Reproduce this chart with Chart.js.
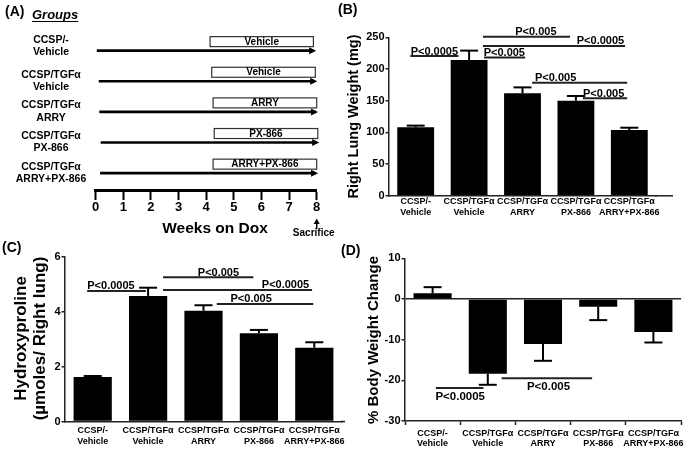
<!DOCTYPE html>
<html><head><meta charset="utf-8">
<script src="https://cdn.jsdelivr.net/npm/chart.js@4.4.1/dist/chart.umd.min.js"></script>
<style>
html,body{margin:0;padding:0;background:#fff;}
#wrap{position:relative;width:692px;height:449px;overflow:hidden;background:#fff;}
#wrap canvas{position:absolute;left:0;top:0;}
</style></head><body>
<div id="wrap">
<canvas id="cA" width="692" height="449"></canvas>
<canvas id="cB" width="692" height="449"></canvas>
<canvas id="cC" width="692" height="449"></canvas>
<canvas id="cD" width="692" height="449"></canvas>
</div>
<script>
// ---------------- DATA ----------------
const groupLine1 = ['CCSP/-', 'CCSP/TGFα', 'CCSP/TGFα', 'CCSP/TGFα', 'CCSP/TGFα'];
const groupLine2 = ['Vehicle', 'Vehicle', 'ARRY', 'PX-866', 'ARRY+PX-866'];
const categories = groupLine1.map((a, i) => [a, groupLine2[i]]);

// Panel A: timeline (weeks on Dox)
const treatments = ['Vehicle', 'Vehicle', 'ARRY', 'PX-866', 'ARRY+PX-866'];
const doxStartWeek = [0.04, 0.11, 0.13, 0.18, 0.16];
const doxEndWeek = [7.98, 8.02, 8.05, 8.09, 8.05];
const treatStartWeek = [4.14, 4.2, 4.25, 4.29, 4.25];
const treatEndWeek = [7.88, 7.95, 8.0, 8.04, 8.0];
const sacrificeWeek = 8;

// Panel B: right lung weight (mg)
const lungWeightMean = [108, 214, 161.7, 150, 103.8];
const lungWeightSEM = [2.7, 15, 9.3, 7.4, 3.6];
// [from group, to group, value, label, label at]
const lungWeightSig = [
  [-0.1, 0.8, 220.5, 'P<0.0005', 0.35],
  [1.28, 2.05, 218, 'P<0.005', 1.66],
  [1.26, 2.89, 251, 'P<0.005', 2.25],
  [1.26, 3.92, 236.3, 'P<0.0005', 3.46],
  [2.18, 3.96, 178.4, 'P<0.005', 2.62],
  [3.13, 3.96, 153.8, 'P<0.005', 3.52]
];

// Panel C: hydroxyproline (µmoles / right lung)
const hydroxyMean = [1.62, 4.58, 4.04, 3.22, 2.69];
const hydroxySEM = [0.04, 0.3, 0.2, 0.12, 0.2];
const hydroxySig = [
  [-0.1, 0.96, 4.76, 'P<0.0005', 0.33],
  [1.27, 2.9, 5.26, 'P<0.005', 2.27],
  [1.27, 3.96, 4.8, 'P<0.0005', 3.48],
  [2.24, 3.98, 4.29, 'P<0.005', 2.86]
];

// Panel D: % body weight change
const bodyWeightMean = [1.4, -18.4, -11.1, -1.9, -8.1];
const bodyWeightSEM = [1.5, 2.7, 4.1, 3.3, 2.6];
const bodyWeightSig = [
  [0.06, 0.92, -21.9, 'P<0.0005', 0.5],
  [1.25, 2.89, -19.5, 'P<0.005', 2.1]
];

// ---------------- HELPERS ----------------
const FAM = 'Arial, "Liberation Sans", sans-serif';
const W = 692, H = 449;
function fnt(size, weight = 'bold', style = 'normal') { return `${style} ${weight} ${size}px ${FAM}`; }
function drawText(ctx, t, x, y, o = {}) {
  ctx.save();
  ctx.font = fnt(o.size || 11, o.weight || 'bold', o.style || 'normal');
  ctx.fillStyle = o.color || '#000';
  ctx.textAlign = o.align || 'center';
  ctx.textBaseline = o.baseline || 'middle';
  ctx.translate(x, y);
  if (o.rot) ctx.rotate(o.rot);
  ctx.fillText(t, 0, 0);
  const w = ctx.measureText(t).width;
  ctx.restore();
  return w;
}
function line(ctx, x1, y1, x2, y2, lw, col) {
  ctx.save(); ctx.strokeStyle = col || '#000'; ctx.lineWidth = lw || 1;
  ctx.beginPath(); ctx.moveTo(x1, y1); ctx.lineTo(x2, y2); ctx.stroke(); ctx.restore();
}

// ---------------- PANEL A ----------------
const timelinePlugin = {
  id: 'timeline',
  afterDatasetsDraw(chart) {
    const { ctx, scales: { x, y } } = chart;
    treatments.forEach((t, i) => {
      const yp = y.getPixelForValue(i);
      const xt = x.getPixelForValue(doxEndWeek[i]);
      ctx.save(); ctx.fillStyle = '#000'; ctx.beginPath();
      ctx.moveTo(xt, yp); ctx.lineTo(xt - 7, yp - 3.5); ctx.lineTo(xt - 7, yp + 3.5);
      ctx.closePath(); ctx.fill(); ctx.restore();
      const x1 = x.getPixelForValue(treatStartWeek[i]);
      const x2 = x.getPixelForValue(treatEndWeek[i]);
      ctx.save(); ctx.fillStyle = '#fff'; ctx.strokeStyle = '#333'; ctx.lineWidth = 1.2;
      ctx.fillRect(x1, yp - 14, x2 - x1, 10); ctx.strokeRect(x1, yp - 14, x2 - x1, 10); ctx.restore();
      drawText(ctx, t, (x1 + x2) / 2, yp - 8.7, { size: 10 });
      const sh = i === 0 ? -4.5 : 0;
      drawText(ctx, groupLine1[i], 51, yp + sh - 6.5, { size: 10.5 });
      drawText(ctx, groupLine2[i], 51, yp + sh + 6, { size: 10.5 });
    });
  },
  afterDraw(chart) {
    const { ctx, scales: { x } } = chart;
    drawText(ctx, '(A)', 5, 12, { size: 14, align: 'left' });
    const gw = drawText(ctx, 'Groups', 32, 15, { size: 13, style: 'italic', align: 'left' });
    line(ctx, 32, 21.5, 32 + gw, 21.5, 1.2, '#000');
    drawText(ctx, 'Weeks on Dox', 215, 228.5, { size: 15.5 });
    const xs = x.getPixelForValue(sacrificeWeek);
    line(ctx, xs, 229, xs, 223, 1.5, '#000');
    ctx.save(); ctx.fillStyle = '#000'; ctx.beginPath();
    ctx.moveTo(xs, 218.5); ctx.lineTo(xs - 3, 224); ctx.lineTo(xs + 3, 224); ctx.closePath(); ctx.fill(); ctx.restore();
    drawText(ctx, 'Sacrifice', xs - 3, 233.5, { size: 10 });
  }
};

new Chart(document.getElementById('cA'), {
  type: 'line',
  data: {
    datasets: treatments.map((t, i) => ({
      data: [{ x: doxStartWeek[i], y: i }, { x: doxEndWeek[i] - 0.1, y: i }],
      borderColor: '#000', borderWidth: 2.6, pointRadius: 0, clip: false, tension: 0
    }))
  },
  options: {
    responsive: false, animation: false, devicePixelRatio: 1,
    layout: { padding: { left: 95.7, right: W - 316.7, top: 20, bottom: H - 190 - 30 } },
    plugins: { legend: { display: false }, tooltip: { enabled: false } },
    scales: {
      x: {
        type: 'linear', min: 0, max: 8,
        afterFit(s) { s.height = 30; },
        ticks: { stepSize: 1, color: '#000', font: { family: FAM, size: 13, weight: 'bold' }, padding: 0 },
        grid: { drawOnChartArea: false, drawTicks: true, tickLength: 10, tickColor: '#000', tickWidth: 2 },
        border: { display: true, color: '#000', width: 3 }
      },
      y: { type: 'linear', display: false, reverse: true, min: -1, max: 4.55 }
    }
  },
  plugins: [timelinePlugin]
});

// ---------------- BAR PANELS ----------------
function barPanel(id, mean, sem, sig, cfg) {
  const a = cfg.area;
  const plug = {
    id: 'extras_' + id,
    afterDatasetsDraw(chart) {
      const { ctx, scales: { x, y } } = chart;
      const meta = chart.getDatasetMeta(0);
      meta.data.forEach((bar, i) => {
        const v = mean[i];
        const tipV = v >= 0 ? v + sem[i] : v - sem[i];
        const yt = y.getPixelForValue(tipV);
        line(ctx, bar.x, bar.y, bar.x, yt, 2, '#000');
        line(ctx, bar.x - 9, yt, bar.x + 9, yt, 2, '#000');
      });
      sig.forEach(([c1, c2, v, lab, cl]) => {
        const yp = y.getPixelForValue(v);
        line(ctx, x.getPixelForValue(c1), yp, x.getPixelForValue(c2), yp, 2, '#222');
        if (cfg.labelBelow) drawText(ctx, lab, x.getPixelForValue(cl), yp + 3, { size: 11.5, baseline: 'top' });
        else drawText(ctx, lab, x.getPixelForValue(cl), yp - 1.5, { size: 11, baseline: 'alphabetic' });
      });
    },
    afterDraw(chart) {
      const { ctx, chartArea } = chart;
      if (cfg.axisExtend) line(ctx, chartArea.right - 1, chartArea.bottom, chartArea.right + cfg.axisExtend, chartArea.bottom, 1.5, '#222');
      cfg.title.lines.forEach((t, k) => drawText(ctx, t, cfg.title.x[k], cfg.title.y, { size: cfg.title.size, rot: -Math.PI / 2 }));
      drawText(ctx, cfg.panel[0], cfg.panel[1], cfg.panel[2], { size: 14, align: 'left' });
    }
  };
  return new Chart(document.getElementById(id), {
    type: 'bar',
    data: {
      labels: categories,
      datasets: [{ data: mean, backgroundColor: '#000', borderWidth: 0, categoryPercentage: 1, barPercentage: 0.69 }]
    },
    options: {
      responsive: false, animation: false, devicePixelRatio: 1,
      layout: { padding: { left: a.left - 30, right: W - a.right, top: a.top, bottom: H - a.bottom - 40 } },
      plugins: { legend: { display: false }, tooltip: { enabled: false } },
      scales: {
        x: {
          afterFit(s) { s.height = 40; },
          ticks: { color: '#000', autoSkip: false, maxRotation: 0, padding: cfg.xPad,
                   font: { family: FAM, size: 9, weight: 'bold', lineHeight: cfg.lh } },
          grid: { drawOnChartArea: false, drawTicks: !!cfg.xTicks, tickLength: 4, tickColor: '#222', tickWidth: 1.5 },
          border: { display: true, color: '#222', width: 1.5 }
        },
        y: {
          min: cfg.ymin, max: cfg.ymax,
          afterFit(s) { s.width = 30; },
          ticks: { stepSize: cfg.step, color: '#000', padding: 1, font: { family: FAM, size: 11, weight: 'bold' } },
          grid: {
            drawOnChartArea: !!cfg.zeroLine, drawTicks: true, tickLength: 3.5, tickColor: '#222', tickWidth: 1.5,
            lineWidth: 1.5, color: c => (c.tick && c.tick.value === 0) ? '#222' : 'rgba(0,0,0,0)'
          },
          border: { display: true, color: '#222', width: 1.5 }
        }
      }
    },
    plugins: [plug]
  });
}

barPanel('cB', lungWeightMean, lungWeightSEM, lungWeightSig, {
  area: { left: 389, right: 656, top: 37.3, bottom: 195.8 }, ymin: 0, ymax: 250, step: 50,
  xPad: 0, lh: 1.25, axisExtend: 17,
  title: { lines: ['Right Lung Weight (mg)'], x: [353.5], y: 116.5, size: 14.5 },
  panel: ['(B)', 338, 10]
});
barPanel('cC', hydroxyMean, hydroxySEM, hydroxySig, {
  area: { left: 65, right: 342, top: 257, bottom: 421.5 }, ymin: 0, ymax: 6, step: 2,
  xPad: 4, lh: 1.15, axisExtend: 3,
  title: { lines: ['Hydroxyproline', '(µmoles/ Right lung)'], x: [21, 40], y: 338.5, size: 17 },
  panel: ['(C)', 2, 248]
});
barPanel('cD', bodyWeightMean, bodyWeightSEM, bodyWeightSig, {
  area: { left: 405, right: 681, top: 258.3, bottom: 421 }, ymin: -30, ymax: 10, step: 10,
  xPad: 4, lh: 1.05, xTicks: true, zeroLine: true, labelBelow: true,
  title: { lines: ['% Body Weight Change'], x: [373.5], y: 340, size: 15 },
  panel: ['(D)', 341, 251.5]
});
</script>
</body></html>
